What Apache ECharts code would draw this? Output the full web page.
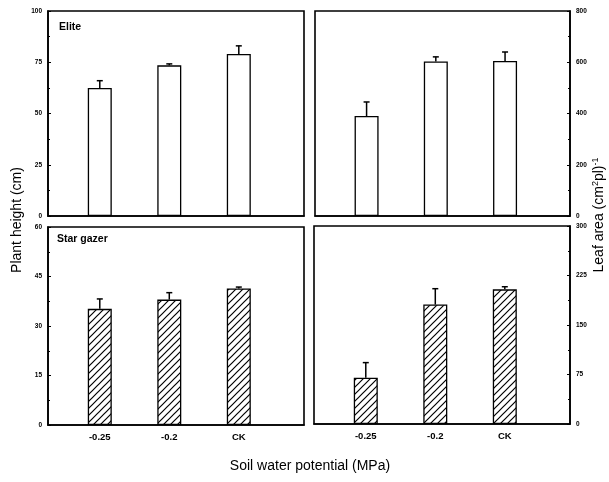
<!DOCTYPE html>
<html>
<head>
<meta charset="utf-8">
<script src="https://cdn.jsdelivr.net/npm/echarts@6/dist/echarts.min.js"></script>
<style>
html,body{margin:0;padding:0;background:#fff;}
#c{width:609px;height:482px;}
</style>
</head>
<body>
<div id="c"></div>
<script>
// ---- data ----
const categories = ['-0.25', '-0.2', 'CK'];
const eliteHeight = [62.5, 73.5, 79];
const eliteHeightErr = [3.5, 0.7, 4];
const eliteLeaf = [390, 603, 605];
const eliteLeafErr = [55, 18, 35];
const starHeight = [35.2, 38, 41.4];
const starHeightErr = [3, 2.1, 0.4];
const starLeaf = [70, 181, 204];
const starLeafErr = [23, 24, 4];
const eliteHeightTicks = [0, 25, 50, 75, 100];
const eliteLeafTicks = [0, 200, 400, 600, 800];
const starHeightTicks = [0, 15, 30, 45, 60];
const starLeafTicks = [0, 75, 150, 225, 300];
const panelLabels = ['Elite', 'Star gazer'];

// hatch pattern
function makeHatch() {
  const s = 7;
  const c = document.createElement('canvas');
  c.width = s; c.height = s;
  const g = c.getContext('2d');
  g.fillStyle = '#fff'; g.fillRect(0, 0, s, s);
  g.strokeStyle = '#000'; g.lineWidth = 1.2;
  g.beginPath();
  g.moveTo(-1, s + 1); g.lineTo(s + 1, -1);
  g.moveTo(-1, 1); g.lineTo(1, -1);
  g.moveTo(s - 1, s + 1); g.lineTo(s + 1, s - 1);
  g.stroke();
  return c;
}
const hatch = { image: makeHatch(), repeat: 'repeat' };

const chart = echarts.init(document.getElementById('c'), null, { renderer: 'canvas' });

const grids = [
  { left: 48, top: 11, width: 256, height: 205 },
  { left: 315, top: 11, width: 255, height: 205 },
  { left: 48, top: 227, width: 256, height: 198 },
  { left: 314, top: 226, width: 256, height: 198 }
].map(g => Object.assign(g, { show: true, borderColor: '#000', borderWidth: 1.6, backgroundColor: 'transparent' }));

const font = 'Liberation Sans, Arial, sans-serif';
const xMin = -0.745, xMax = 2.938;

function xAxis(i, showLabels) {
  return {
    type: 'value', gridIndex: i, min: xMin, max: xMax,
    splitLine: { show: false },
    axisLine: { show: true, onZero: false, lineStyle: { color: '#000', width: 1.6 } },
    axisTick: { show: false },
    axisLabel: {
      show: showLabels, customValues: [0, 1, 2],
      formatter: v => categories[Math.round(v)] || '',
      color: '#000', fontSize: 9.5, fontWeight: 'bold', fontFamily: font, margin: 7
    }
  };
}
function yAxis(i, ticks, pos) {
  return {
    type: 'value', gridIndex: i, position: pos,
    min: ticks[0], max: ticks[ticks.length - 1], interval: ticks[1] - ticks[0],
    splitLine: { show: false },
    axisLine: { show: true, onZero: false, lineStyle: { color: '#000', width: 1.6 } },
    axisTick: { show: true, inside: true, length: 3, lineStyle: { color: '#000', width: 1 } },
    minorTick: { show: true, splitNumber: 2, length: 2, lineStyle: { color: '#000', width: 1 } },
    axisLabel: { color: '#000', fontSize: 6.5, fontWeight: 'bold', fontFamily: font, margin: 6 }
  };
}

function barSeries(i, vals, fill) {
  return {
    type: 'bar', xAxisIndex: i, yAxisIndex: i, barWidth: 24,
    data: vals.map((v, k) => [k, v]),
    itemStyle: { color: fill, borderColor: '#000', borderWidth: 1.3 },
    silent: true, z: 2
  };
}
function errSeries(i, vals, errs) {
  return {
    type: 'custom', xAxisIndex: i, yAxisIndex: i, z: 5, silent: true,
    data: vals.map((v, k) => [k, v, errs[k]]),
    renderItem: function (params, api) {
      const x = api.value(0), y = api.value(1), e = api.value(2);
      const p0 = api.coord([x, y]);
      const p1 = api.coord([x, y + e]);
      const st = { stroke: '#000', lineWidth: 1.5 };
      return {
        type: 'group', children: [
          { type: 'line', shape: { x1: p0[0], y1: p0[1], x2: p1[0], y2: p1[1] }, style: st },
          { type: 'line', shape: { x1: p1[0] - 3, y1: p1[1], x2: p1[0] + 3, y2: p1[1] }, style: st }
        ]
      };
    }
  };
}

const option = {
  animation: false,
  backgroundColor: '#fff',
  grid: grids,
  xAxis: [xAxis(0, false), xAxis(1, false), xAxis(2, true), xAxis(3, true)],
  yAxis: [
    yAxis(0, eliteHeightTicks, 'left'),
    yAxis(1, eliteLeafTicks, 'right'),
    yAxis(2, starHeightTicks, 'left'),
    yAxis(3, starLeafTicks, 'right')
  ],
  series: [
    barSeries(0, eliteHeight, '#fff'), errSeries(0, eliteHeight, eliteHeightErr),
    barSeries(1, eliteLeaf, '#fff'), errSeries(1, eliteLeaf, eliteLeafErr),
    barSeries(2, starHeight, hatch), errSeries(2, starHeight, starHeightErr),
    barSeries(3, starLeaf, hatch), errSeries(3, starLeaf, starLeafErr)
  ],
  graphic: [
    { type: 'text', x: 59, y: 27, style: { text: panelLabels[0], font: 'bold 10.5px ' + font, fill: '#000', verticalAlign: 'middle' } },
    { type: 'text', x: 57, y: 239, style: { text: panelLabels[1], font: 'bold 10.5px ' + font, fill: '#000', verticalAlign: 'middle' } },
    { type: 'text', x: 17, y: 220, rotation: Math.PI / 2,
      style: { text: 'Plant height (cm)', font: '14px ' + font, fill: '#000', align: 'center', verticalAlign: 'middle' } },
    { type: 'text', x: 599, y: 215, rotation: Math.PI / 2,
      style: { text: 'Leaf area (cm{s|2}pl){s|-1}', font: '14px ' + font, fill: '#000', align: 'center', verticalAlign: 'middle',
        rich: { s: { fontSize: 9, fontFamily: font, verticalAlign: 'top', lineHeight: 16, fill: '#000' } } } },
    { type: 'text', x: 310, y: 466,
      style: { text: 'Soil water potential (MPa)', font: '14px ' + font, fill: '#000', align: 'center', verticalAlign: 'middle' } }
  ]
};
chart.setOption(option);
</script>
</body>
</html>
